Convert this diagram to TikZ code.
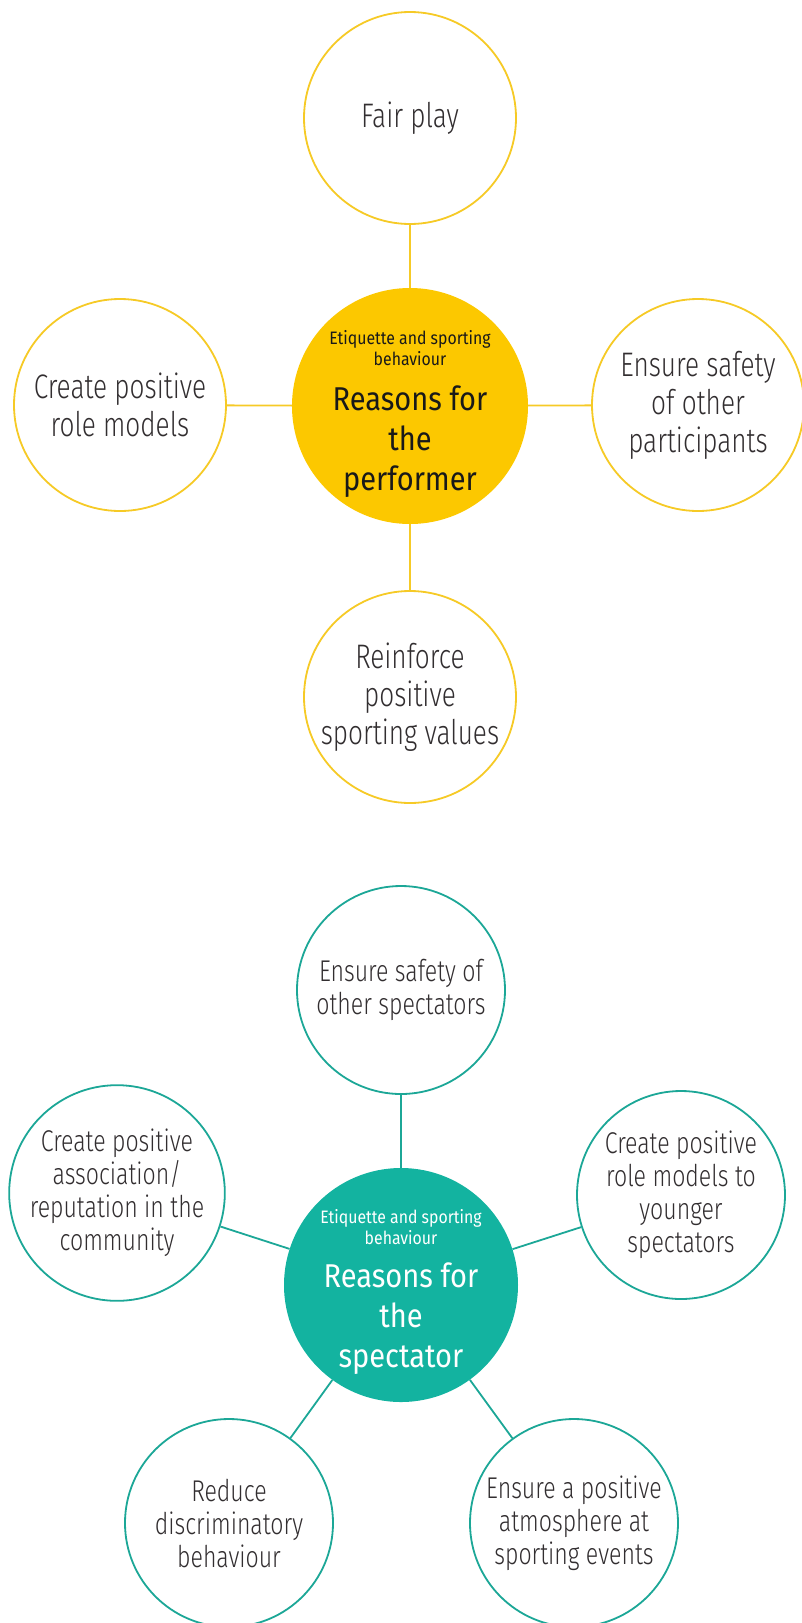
\documentclass[tikz,border=0pt]{standalone}
\usepackage{fontspec}
\setmainfont{Fira Sans Light}[FakeStretch=0.77]
\newfontfamily\hubfont{Fira Sans}[FakeStretch=0.88]
\usetikzlibrary{positioning}
\definecolor{PerfYellow}{RGB}{252,200,0}
\definecolor{RingYellow}{RGB}{246,202,38}
\definecolor{SpecTeal}{RGB}{19,179,160}
\definecolor{RingTeal}{RGB}{28,167,151}
\definecolor{TextGrey}{RGB}{50,46,48}

\begin{document}
\begin{tikzpicture}[x=1pt,y=-1pt,
  ring/.style={circle,draw=#1,line width=1.8pt,fill=white,inner sep=0pt,align=center,text=TextGrey},
  leafP/.style={ring=RingYellow,minimum size=212pt,font=\fontsize{34}{38}\selectfont},
  leafS/.style={ring=RingTeal,minimum size=208pt,font=\fontsize{30}{33}\selectfont},
  hub/.style={circle,fill=#1,inner sep=0pt},
  tagtext/.style={align=center,inner sep=0pt,font=\hubfont\fontsize{18}{21}\selectfont},
  titletext/.style={align=center,inner sep=0pt,font=\hubfont\fontsize{33}{40}\selectfont},
  link/.style={draw=#1,line width=1.8pt}]
  \useasboundingbox (0,0) rectangle (802,1623);

  \node[hub=PerfYellow,minimum size=236pt] (perf) at (410,406) {};
  \node[tagtext,text=black!90] (perftag) at ([yshift=58pt]perf.center) {Etiquette and sporting\\behaviour};
  \node[titletext,text=black!90,below=20pt of perftag] (perftitle) {Reasons for\\the\\performer};
  \node[leafP] (fair) at (410,118) {Fair play};
  \node[leafP] (rolemod) at (120,405) {Create positive\\role models};
  \node[leafP] (safety) at (698,405) {Ensure safety\\of other\\participants};
  \node[leafP] (values) at (410,697) {Reinforce\\positive\\sporting values};
  \foreach \leaf in {fair,rolemod,safety,values}
    \draw[link=RingYellow] (perf) -- (\leaf);

  \node[hub=SpecTeal,minimum size=234pt] (spec) at (401,1285) {};
  \node[tagtext,text=white] (spectag) at ([yshift=58pt]spec.center) {Etiquette and sporting\\behaviour};
  \node[titletext,text=white,below=18pt of spectag] (spectitle) {Reasons for\\the\\spectator};
  \node[leafS] (crowdsafe) at (401,990) {Ensure safety of\\other spectators};
  \node[leafS] (community) at (117,1193) {Create positive\\association/\\reputation in the\\community};
  \node[leafS] (younger) at (681,1195) {Create positive\\role models to\\younger\\spectators};
  \node[leafS] (discrim) at (229,1523) {Reduce\\discriminatory\\behaviour};
  \node[leafS] (atmos) at (574,1523) {Ensure a positive\\atmosphere at\\sporting events};
  \foreach \leaf in {crowdsafe,community,younger,discrim,atmos}
    \draw[link=RingTeal] (spec) -- (\leaf);
\end{tikzpicture}
\end{document}
